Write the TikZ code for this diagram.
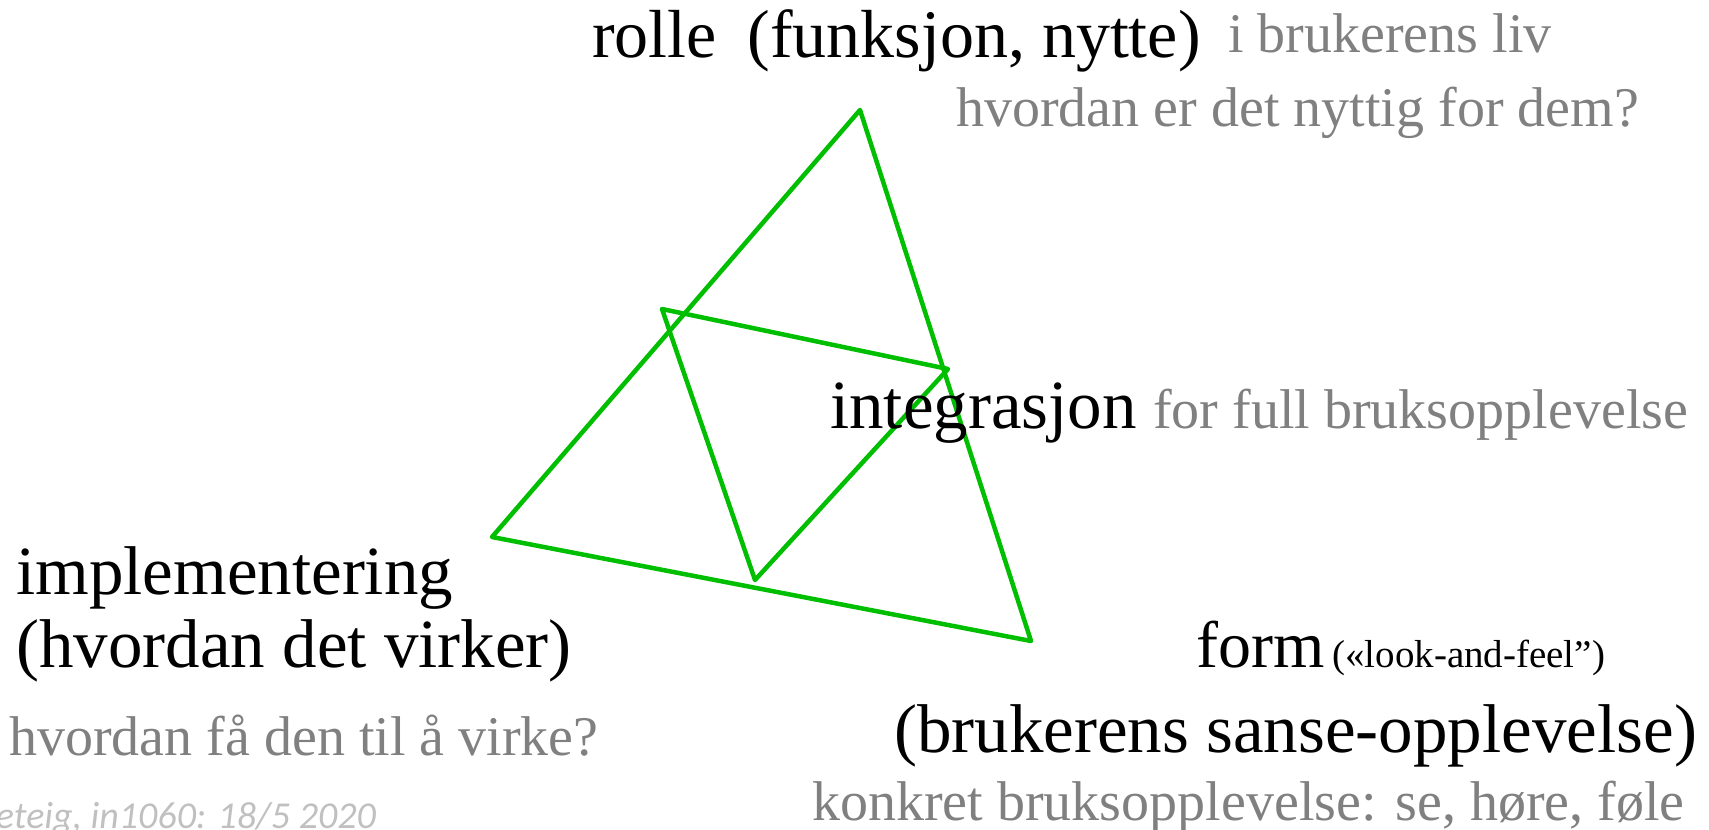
\documentclass[tikz,border=0pt]{standalone}
\usepackage{fontspec}
\setmainfont{Liberation Serif}
\newfontfamily\stampfont{Carlito}
\definecolor{triGreen}{RGB}{0,190,0}
\definecolor{noteGray}{RGB}{128,128,128}
\definecolor{stampGray}{RGB}{192,192,192}
\newcommand{\bigsize}{\fontsize{69}{74}\selectfont}
\newcommand{\midsize}{\fontsize{56}{62}\selectfont}
\newcommand{\tinysize}{\fontsize{39}{44}\selectfont}

\begin{document}
\begin{tikzpicture}[x=1pt,y=-1pt,
    mainlbl/.style={inner sep=0pt,anchor=base west,font=\bigsize},
    grylbl/.style={inner sep=0pt,anchor=base west,text=noteGray,font=\midsize},
    triline/.style={draw=triGreen,line width=4.5pt,line join=round}]
    \useasboundingbox (0,0) rectangle (1709,830);

    % outer triangle
    \coordinate (otop) at (860,110);
    \coordinate (oleft) at (492,537);
    \coordinate (oright) at (1031,641);
    \draw[triline] (otop) -- (oright) -- (oleft) -- cycle;

    % inner triangle
    \coordinate (itop) at (662,309);
    \coordinate (iright) at (948,369);
    \coordinate (ibottom) at (755,580);
    \draw[triline] (itop) -- (iright) -- (ibottom) -- cycle;

    % top corner
    \node[mainlbl,font=\fontsize{68}{74}\selectfont] (rolle) at (592,57) {rolle\hspace{0.45em}(funksjon, nytte)};
    \node[grylbl] (rollenote) at (1228,52) {i brukerens liv};
    \node[grylbl] (nyttig) at (956,126) {hvordan er det nyttig for dem?};

    % middle
    \node[mainlbl] (integr) at (830,428) {integrasjon};
    \node[grylbl] (integrnote) at (1153,428) {for full bruksopplevelse};

    % left corner
    \node[mainlbl] (impl) at (16,594) {implementering};
    \node[mainlbl] (implsub) at (16,667) {(hvordan det virker)};
    \node[grylbl] (implnote) at (9,755) {hvordan få den til å virke?};
    \node[inner sep=0pt,anchor=base east,text=stampGray,font=\stampfont\itshape\fontsize{38}{42}\selectfont]
        (stamp) at (376,828) {eteig, in1060: 18/5 2020};

    % right corner
    \node[mainlbl,font=\fontsize{66}{72}\selectfont] (form) at (1196,667) {form};
    \node[inner sep=0pt,anchor=base west,font=\tinysize] (formnote) at (1332,667) {(«look-and-feel”)};
    \node[mainlbl] (sanse) at (894,752) {(brukerens sanse-opplevelse)};
    \node[grylbl] (konkret) at (812,820) {konkret bruksopplevelse: se, høre, føle};
\end{tikzpicture}
\end{document}
